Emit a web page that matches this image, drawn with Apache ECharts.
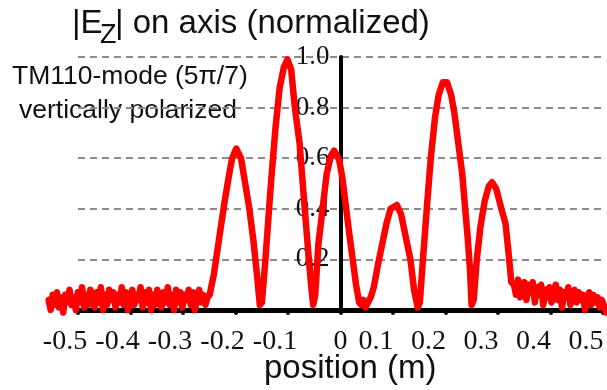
<!DOCTYPE html>
<html>
<head>
<meta charset="utf-8">
<script src="https://cdn.jsdelivr.net/npm/echarts@6/dist/echarts.min.js"></script>
<style>
  html, body { margin: 0; padding: 0; background: #fff; }
  #chart { width: 607px; height: 390px; }
</style>
</head>
<body>
<div id="chart"></div>
<script>
// Axis tick labels
const xTickLabels = ['-0.5', '-0.4', '-0.3', '-0.2', '-0.1', '0', '0.1', '0.2', '0.3', '0.4', '0.5'];
const yTickLabels = ['0', '0.2', '0.4', '0.6', '0.8', '1.0'];

// Measured noise floor left of the structure (sampled every 4 mm from -0.556 m)
const leftNoiseStart = -0.556;
const leftNoiseStep = 0.004;
const leftNoise = [
  0.04, 0.00, 0.06, 0.02, 0.07, 0.01, 0.05, -0.01, 0.06, 0.03,
  0.08, 0.02, 0.05, 0.00, 0.07, 0.03, 0.09, 0.01, 0.06, 0.02,
  0.08, 0.04, 0.01, 0.07, 0.03, 0.09, 0.00, 0.06, 0.02, 0.08,
  0.04, 0.07, 0.01, 0.06, 0.03, 0.09, 0.02, 0.07, 0.00, 0.05,
  0.08, 0.02, 0.06, 0.04, 0.09, 0.01, 0.07, 0.03, 0.08, 0.00,
  0.06, 0.02, 0.08, 0.05, 0.01, 0.07, 0.03, 0.09, 0.02, 0.06,
  0.00, 0.08, 0.03, 0.07, 0.01, 0.06, 0.04, 0.08, 0.02, 0.07,
  0.00, 0.05, 0.08, 0.03, 0.06, 0.02, 0.05
];

// Field profile through the cells (position in m, |Ez| normalized)
const cellPos = [
  -0.248, -0.240, -0.230, -0.220, -0.212, -0.205, -0.197, -0.188, -0.180, -0.172,
  -0.164, -0.157, -0.152, -0.148, -0.142, -0.135, -0.130, -0.122, -0.114, -0.106,
  -0.099, -0.092, -0.085, -0.076, -0.068, -0.061, -0.054, -0.050, -0.046, -0.040,
  -0.032, -0.024, -0.016, -0.010, -0.004, 0.000, 0.006, 0.012, 0.018, 0.025,
  0.032, 0.038, 0.042, 0.046, 0.050, 0.055, 0.060, 0.066, 0.074, 0.082,
  0.090, 0.098, 0.110, 0.118, 0.126, 0.136, 0.143, 0.150, 0.154, 0.160,
  0.168, 0.175, 0.183, 0.190, 0.198, 0.206, 0.214, 0.220, 0.235, 0.245,
  0.250, 0.253, 0.257, 0.263, 0.270, 0.278, 0.286, 0.292, 0.300, 0.310,
  0.318, 0.324, 0.329
];
const cellVal = [
  0.06, 0.14, 0.28, 0.42, 0.52, 0.60, 0.638, 0.60, 0.50, 0.40,
  0.27, 0.13, 0.02, 0.03, 0.18, 0.38, 0.52, 0.72, 0.88, 0.96,
  0.99, 0.95, 0.80, 0.66, 0.45, 0.27, 0.10, 0.02, 0.06, 0.26,
  0.40, 0.54, 0.61, 0.63, 0.61, 0.59, 0.52, 0.42, 0.32, 0.21,
  0.10, 0.03, 0.02, 0.04, 0.01, 0.03, 0.05, 0.09, 0.18, 0.26,
  0.34, 0.40, 0.415, 0.38, 0.30, 0.20, 0.08, 0.01, 0.03, 0.20,
  0.42, 0.60, 0.76, 0.85, 0.90, 0.90, 0.85, 0.78, 0.54, 0.30,
  0.16, 0.02, 0.04, 0.20, 0.33, 0.43, 0.49, 0.505, 0.48, 0.40,
  0.34, 0.22, 0.11
];

// Measured noise floor right of the structure (sampled every 4 mm from 0.334 m)
const rightNoiseStart = 0.334;
const rightNoiseStep = 0.004;
const rightNoise = [
  0.10, 0.06, 0.12, 0.05, 0.09, 0.11, 0.04, 0.10, 0.07, 0.11,
  0.03, 0.09, 0.06, 0.10, 0.02, 0.08, 0.05, 0.09, 0.03, 0.07,
  0.10, 0.04, 0.08, 0.01, 0.07, 0.05, 0.09, 0.02, 0.06, 0.08,
  0.03, 0.07, 0.04, 0.06, 0.00, 0.05, 0.07, 0.02, 0.06, 0.03,
  0.05, 0.01, 0.04, 0.02, -0.01
];

const profile = [];
leftNoise.forEach((v, i) => profile.push([leftNoiseStart + i * leftNoiseStep, v]));
cellPos.forEach((p, i) => profile.push([p, cellVal[i]]));
rightNoise.forEach((v, i) => profile.push([rightNoiseStart + i * rightNoiseStep, v]));

const SERIF = '"Liberation Serif", "DejaVu Serif", serif';
const SANS = '"Liberation Sans", Arial, sans-serif';

// Frame grid: axes, ticks and dashed gridlines span -0.5 .. 0.5 m (525 px per metre).
// Data grid: same scale, widened so the measured trace can run past the frame.
const PX_PER_M = 525;
const frameLeft = 78;
const dataMin = -0.56, dataMax = 0.512;

const chart = echarts.init(document.getElementById('chart'), null, { renderer: 'canvas' });

chart.setOption({
  animation: false,
  backgroundColor: '#ffffff',
  grid: [
    { left: frameLeft, width: PX_PER_M, top: 57, bottom: 80, containLabel: false },
    { left: frameLeft + (dataMin + 0.5) * PX_PER_M, width: (dataMax - dataMin) * PX_PER_M, top: 57, bottom: 80, containLabel: false }
  ],
  xAxis: [{
    gridIndex: 0,
    type: 'value',
    min: -0.5,
    max: 0.5,
    interval: 0.1,
    axisLine: { onZero: false, lineStyle: { color: '#000', width: 5 } },
    axisTick: { show: true, length: 3, lineStyle: { color: '#000', width: 4, cap: 'round' } },
    splitLine: { show: false },
    axisLabel: {
      margin: 18,
      color: '#111',
      fontFamily: SERIF,
      fontSize: 28,
      formatter: (value, index) => {
        const t = xTickLabels[index];
        if (t === '0') return '{z|' + t + '}';
        return (t.charAt(0) === '-' ? '{n|' : '{p|') + t + '}';
      },
      rich: {
        n: { fontFamily: SERIF, fontSize: 28, color: '#111', padding: [0, 26, 0, 0] },
        p: { fontFamily: SERIF, fontSize: 28, color: '#111', padding: [0, 34, 0, 0] },
        z: { fontFamily: SERIF, fontSize: 28, color: '#111' }
      }
    }
  }, {
    gridIndex: 1,
    type: 'value',
    min: dataMin,
    max: dataMax,
    show: false
  }],
  yAxis: [{
    gridIndex: 0,
    type: 'value',
    min: 0,
    max: 1,
    interval: 0.2,
    position: 'left',
    // move the vertical axis onto x = 0 (half the frame width to the right)
    offset: -0.5 * PX_PER_M,
    axisLine: { show: true, onZero: false, lineStyle: { color: '#000', width: 4 } },
    axisTick: { show: false },
    axisLabel: {
      margin: 11,
      color: '#111',
      fontFamily: SERIF,
      fontSize: 27,
      showMinLabel: false,
      formatter: (value, index) => yTickLabels[index]
    },
    splitLine: {
      show: true,
      lineStyle: { color: '#8c8c8c', width: 2, type: [7, 5] }
    }
  }, {
    gridIndex: 1,
    type: 'value',
    min: 0,
    max: 1,
    show: false
  }],
  graphic: [
    { type: 'text', left: 72, top: 7, style: { text: '|E', font: '33px ' + SANS, fill: '#111' } },
    { type: 'text', left: 100, top: 22, style: { text: 'Z', font: '27px ' + SANS, fill: '#111' } },
    { type: 'text', left: 115, top: 7, style: { text: '| on axis (normalized)', font: '33px ' + SANS, fill: '#111' } },
    { type: 'text', left: 12, top: 63, style: { text: 'TM110-mode (5π/7)', font: '26.5px ' + SANS, fill: '#111' } },
    { type: 'text', left: 19, top: 97, style: { text: 'vertically polarized', font: '26.5px ' + SANS, fill: '#111' } },
    { type: 'text', left: 264, top: 352, style: { text: 'position (m)', font: '33px ' + SANS, fill: '#111' } }
  ],
  series: [{
    type: 'line',
    xAxisIndex: 1,
    yAxisIndex: 1,
    data: profile,
    showSymbol: false,
    clip: false,
    z: 5,
    lineStyle: { color: '#ff0000', width: 6.5, join: 'round', cap: 'round' }
  }]
});
</script>
</body>
</html>
